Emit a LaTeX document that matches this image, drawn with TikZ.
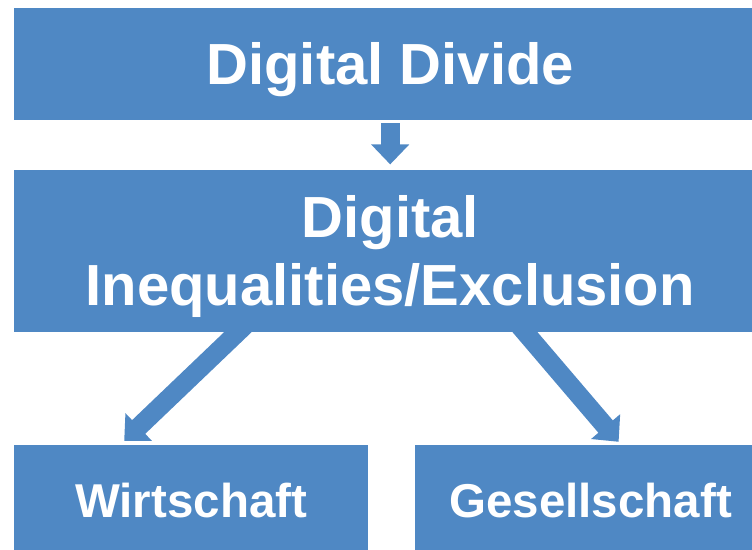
\documentclass[tikz,border=0pt]{standalone}
\usepackage{fontspec}
\setmainfont{Liberation Sans}
\usepackage{xcolor}
\usepackage{tikz}
\usetikzlibrary{arrows.meta}
\usetikzlibrary{positioning}
\usetikzlibrary{calc}
\definecolor{boxblue}{HTML}{4F88C4}
\tikzstyle{block} = [rectangle,fill=boxblue,draw=none,inner sep=0pt,
text=white, font=\bfseries\fontsize{58}{68}\selectfont, align=center]
\tikzstyle{bigarrow} = [draw=boxblue, line width=19pt,
-{Triangle[width=37pt,length=20pt]}]

\begin{document}
\begin{tikzpicture}[x=1pt,y=-1pt]
  \useasboundingbox (0,0) rectangle (752,549);
  % top
  \node[block, anchor=north west, minimum width=752pt, minimum height=112pt,
        text height=41.5pt, text depth=0pt] (divide) at (14,8) {Digital Divide};
  % middle
  \node[block, below=49pt of divide, minimum width=752pt, minimum height=162pt,
        text height=110pt, text depth=0pt] (inequal) {Digital\\Inequalities/Exclusion};
  % bottom
  \node[block, below right=113pt and 0pt of inequal.south west, minimum width=354pt,
        minimum height=110pt, text height=34pt, text depth=0pt,
        font=\bfseries\fontsize{47.5}{56}\selectfont] (wirt) {Wirtschaft};
  \node[block, right=46pt of wirt, minimum width=352pt, minimum height=110pt,
        text height=34pt, text depth=0pt,
        font=\bfseries\fontsize{47.5}{56}\selectfont] (ges) {Gesellschaft};

  % edges
  \draw[bigarrow, shorten <=3pt, shorten >=5pt] (divide) -- (inequal);
  \draw[bigarrow, shorten <=-12pt] ([xshift=-152pt]inequal.south) -- ([xshift=-67pt,yshift=4pt]wirt.north);
  \draw[bigarrow, shorten <=-12pt] ([xshift=134.5pt]inequal.south) -- ([xshift=28pt,yshift=3pt]ges.north);
\end{tikzpicture}
\end{document}
